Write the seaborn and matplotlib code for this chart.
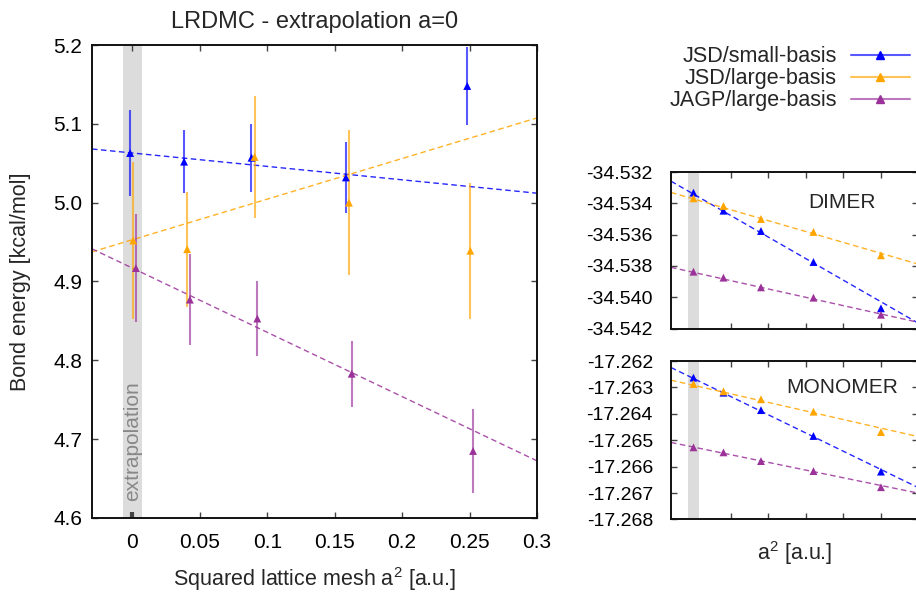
import numpy as np
import pandas as pd
import matplotlib
matplotlib.use("Agg")
import matplotlib.pyplot as plt
from matplotlib.lines import Line2D
from matplotlib.ticker import FormatStrFormatter, FuncFormatter
import seaborn as sns

# --- data ---
series = ["JSD/small-basis", "JSD/large-basis", "JAGP/large-basis"]
colors = ["#0000ff", "#ffa500", "#9a329a"]

a2 = [0.0, 0.04, 0.09, 0.16, 0.25]
x_shift = [-0.0017, 0.0006, 0.0026]  # small horizontal offsets so the bars don't overlap

# bond energy [kcal/mol] (first point = a=0 extrapolation)
bond_small = [5.063, 5.052, 5.057, 5.032, 5.148]
bond_small_err = [0.054, 0.040, 0.043, 0.045, 0.050]
bond_large = [4.952, 4.941, 5.058, 5.000, 4.939]
bond_large_err = [0.099, 0.073, 0.077, 0.092, 0.086]
bond_jagp = [4.917, 4.877, 4.853, 4.783, 4.685]
bond_jagp_err = [0.069, 0.058, 0.048, 0.042, 0.053]
bond_fit_b0 = [5.063, 4.953, 4.917]
bond_fit_b1 = [-0.170, 0.515, -0.815]

# total energies [Ha]
dimer_small = [-34.53332, -34.53447, -34.53577, -34.53775, -34.54071]
dimer_large = [-34.53368, -34.53417, -34.53500, -34.53583, -34.53732]
dimer_jagp = [-34.53837, -34.53875, -34.53937, -34.54003, -34.54112]
dimer_fit_b0 = [-34.53341, -34.53372, -34.53841]
dimer_fit_b1 = [-0.02752, -0.01390, -0.01065]

monomer_small = [-17.26263, -17.26320, -17.26386, -17.26484, -17.26619]
monomer_large = [-17.26287, -17.26315, -17.26345, -17.26392, -17.26469]
monomer_jagp = [-17.26527, -17.26546, -17.26579, -17.26617, -17.26678]
monomer_fit_b0 = [-17.26266, -17.26292, -17.26526]
monomer_fit_b1 = [-0.01380, -0.00649, -0.00582]

xlim = (-0.03, 0.3)

sns.set_theme(style="ticks")
plt.rcParams["font.family"] = ["Liberation Sans", "DejaVu Sans"]
plt.rcParams["mathtext.default"] = "regular"
plt.rcParams["axes.unicode_minus"] = False


def points_frame(values, shifts):
    rows = []
    for name, vals, dx in zip(series, values, shifts):
        for x, y in zip(a2, vals):
            rows.append({"series": name, "x": x + dx, "y": y})
    return pd.DataFrame(rows)


def fit_frame(b0s, b1s):
    grid = np.linspace(xlim[0], xlim[1], 50)
    rows = []
    for name, b0, b1 in zip(series, b0s, b1s):
        for x in grid:
            rows.append({"series": name, "x": x, "y": b0 + b1 * x})
    return pd.DataFrame(rows)


def style_axes(ax, ticksize):
    ax.set_xlim(*xlim)
    ax.axvspan(-0.0072, 0.0072, color="#dcdcdc", lw=0, zorder=0)
    ax.tick_params(direction="in", length=4.5, width=1, top=True, right=True,
                   color="#444444", labelcolor="black", labelsize=ticksize)
    for sp in ax.spines.values():
        sp.set_linewidth(1.4)
        sp.set_color("#111111")
    ax.set_xlabel("")
    ax.set_ylabel("")


def draw_panel(ax, values, b0s, b1s, errs=None, shifts=(0, 0, 0)):
    fits = fit_frame(b0s, b1s)
    for name, c in zip(series, colors):
        sub = fits[fits["series"] == name]
        sns.lineplot(data=sub, x="x", y="y", color=c, lw=1.0, ax=ax,
                     linestyle=(0, (4, 2.5)), alpha=0.85, zorder=2)
    pts = points_frame(values, shifts)
    if errs is not None:
        for name, c, e in zip(series, colors, errs):
            sub = pts[pts["series"] == name]
            ax.errorbar(sub["x"], sub["y"], yerr=e, fmt="none", ecolor=c,
                        elinewidth=1.5, alpha=0.65, capsize=0, zorder=3)
    sns.scatterplot(data=pts, x="x", y="y", hue="series", palette=colors,
                    marker="^", s=32, linewidth=0, legend=False, ax=ax, zorder=4)


fig = plt.figure(figsize=(9.16, 5.93), dpi=100)

# main panel
ax = fig.add_axes([0.1004, 0.1265, 0.4858, 0.7976])
draw_panel(ax, [bond_small, bond_large, bond_jagp], bond_fit_b0, bond_fit_b1,
           errs=[bond_small_err, bond_large_err, bond_jagp_err], shifts=x_shift)
style_axes(ax, 15)
ax.set_ylim(4.6, 5.2)
ax.set_xticks([0, 0.05, 0.1, 0.15, 0.2, 0.25, 0.3])
ax.set_yticks([4.6, 4.7, 4.8, 4.9, 5.0, 5.1, 5.2])
ax.xaxis.set_major_formatter(FuncFormatter(lambda v, p: f"{v:g}"))
ax.yaxis.set_major_formatter(FormatStrFormatter("%.1f"))
ax.tick_params(axis="x", pad=11)
ax.tick_params(axis="y", pad=7)
t0 = ax.xaxis.get_major_ticks()[0]
t0.tick1line.set_markeredgewidth(3)
t0.tick1line.set_color("black")
ax.set_title("LRDMC - extrapolation a=0", fontsize=17, pad=12)
ax.set_xlabel("Squared lattice mesh a$^2$ [a.u.]", fontsize=15.5, labelpad=9)
ax.set_ylabel("Bond energy [kcal/mol]", fontsize=15.5, labelpad=16)
ax.text(0.0002, 4.621, "extrapolation", rotation=90, color="#888888",
        fontsize=15, ha="center", va="bottom", zorder=1)

# dimer panel
axd = fig.add_axes([0.7325, 0.446, 0.2702, 0.2639])
draw_panel(axd, [dimer_small, dimer_large, dimer_jagp], dimer_fit_b0, dimer_fit_b1)
style_axes(axd, 14)
axd.set_ylim(-34.542, -34.532)
axd.set_yticks(np.arange(-34.542, -34.5319, 0.002))
axd.set_xticks([0.05, 0.1, 0.15, 0.2, 0.25])
axd.tick_params(labelbottom=False, pad=13)
axd.yaxis.set_major_formatter(FormatStrFormatter("%.3f"))
axd.text(0.691, 0.804, "DIMER", transform=axd.transAxes, fontsize=15,
         ha="center", va="center")

# monomer panel
axm = fig.add_axes([0.7325, 0.1241, 0.2702, 0.2671])
draw_panel(axm, [monomer_small, monomer_large, monomer_jagp], monomer_fit_b0, monomer_fit_b1)
style_axes(axm, 14)
axm.set_ylim(-17.268, -17.262)
axm.set_yticks(np.arange(-17.268, -17.26195, 0.001))
axm.set_xticks([0.05, 0.1, 0.15, 0.2, 0.25])
axm.tick_params(labelbottom=False, pad=13)
axm.yaxis.set_major_formatter(FormatStrFormatter("%.3f"))
axm.set_xlabel("a$^2$ [a.u.]", fontsize=15.5, labelpad=14)
axm.text(0.691, 0.831, "MONOMER", transform=axm.transAxes, fontsize=15,
         ha="center", va="center")

# legend
handles = [Line2D([], [], lw=1.5, marker="^", markersize=5.5) for c in colors]
for h, c in zip(handles, colors):
    h.set_color(matplotlib.colors.to_rgba(c, 0.65))
    h.set_markerfacecolor(c)
    h.set_markeredgecolor(c)
fig.legend(handles, series, loc="upper right", bbox_to_anchor=(0.9934, 0.922),
           frameon=False, markerfirst=False, handlelength=2.75, handletextpad=0.65,
           labelspacing=0.05, borderpad=0, borderaxespad=0, fontsize=15.5)

fig.savefig("out.png", dpi=100)
